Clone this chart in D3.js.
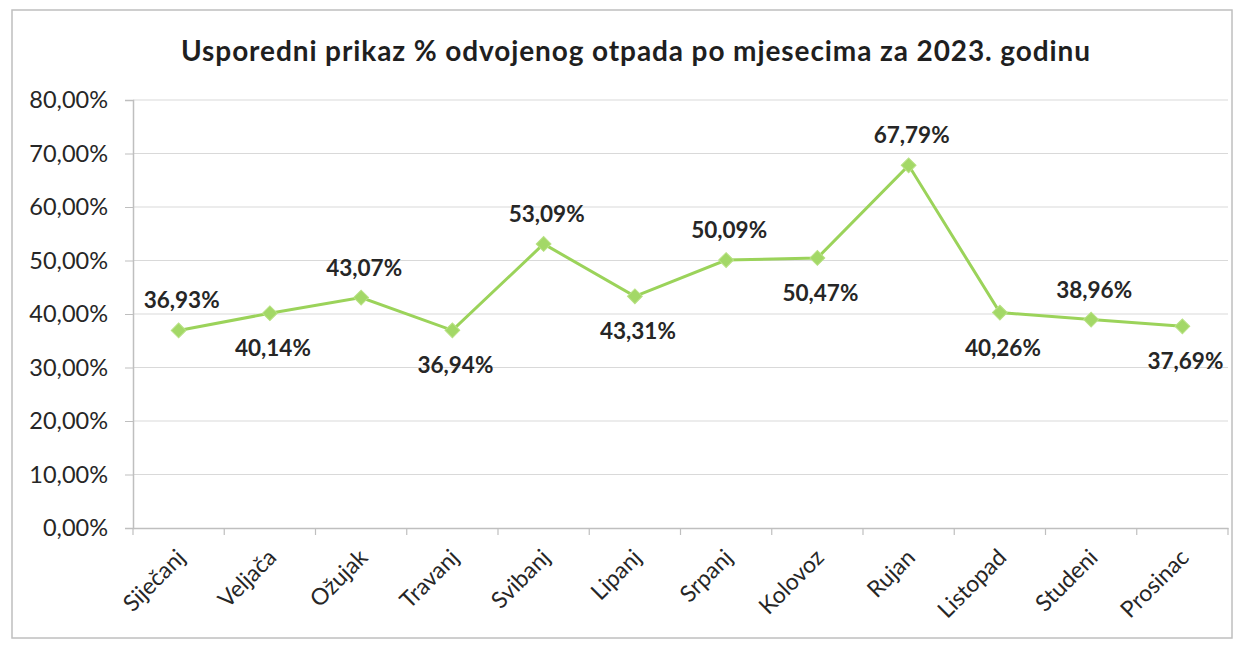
<!DOCTYPE html>
<html><head><meta charset="utf-8">
<script src="https://cdn.jsdelivr.net/npm/d3@7"></script>
<style>body{margin:0;background:#fff}svg{display:block}</style>
</head><body>
<script>
const months = ["Siječanj","Veljača","Ožujak","Travanj","Svibanj","Lipanj","Srpanj","Kolovoz","Rujan","Listopad","Studeni","Prosinac"];
const values = [36.93,40.14,43.07,36.94,53.09,43.31,50.09,50.47,67.79,40.26,38.96,37.69];
const labelPos = ["above","below","above","below","above","below","above","below","above","below","above","below"];
const yTicks = [0,10,20,30,40,50,60,70,80];
const title = "Usporedni prikaz % odvojenog otpada po mjesecima za 2023. godinu";

const W=1240,H=646;
const svg=d3.select("body").append("svg").attr("width",W).attr("height",H);
const font="Lato, 'Open Sans', sans-serif";
svg.append("rect").attr("x",12).attr("y",10).attr("width",1220).attr("height",628)
  .attr("fill","#fff").attr("stroke","#bfbfbf").attr("stroke-width",1.5);

const m={l:133,r:1228,t:100,b:528};
const x=d3.scaleBand().domain(months).range([m.l,m.r]);
const y=d3.scaleLinear().domain([0,80]).range([m.b,m.t]);
const fmt=v=>d3.format(".2f")(v).replace(".",",")+"%";

svg.append("text").attr("x",636).attr("y",61).attr("text-anchor","middle")
  .attr("font-family",font).attr("font-weight","bold").attr("font-size",28)
  .attr("letter-spacing",0.9).attr("fill","#1f1f1f").text(title);

// grid
svg.append("g").selectAll("line").data(yTicks.filter(d=>d>0)).join("line")
  .attr("x1",m.l).attr("x2",m.r).attr("y1",d=>y(d)).attr("y2",d=>y(d))
  .attr("stroke","#d9d9d9").attr("stroke-width",1.2);

// y axis
const ya=svg.append("g").attr("transform",`translate(${m.l},0)`)
  .call(d3.axisLeft(y).tickValues(yTicks).tickFormat(fmt).tickSize(8).tickPadding(17));
ya.select(".domain").attr("stroke","#bfbfbf").attr("stroke-width",1.5);
ya.selectAll(".tick line").attr("stroke","#bfbfbf");
ya.selectAll("text").attr("font-family",font).attr("font-size",23.5).attr("fill","#262626");

// x axis
const xa=svg.append("g").attr("transform",`translate(0,${m.b})`)
  .call(d3.axisBottom(x).tickSize(0).tickPadding(0));
xa.select(".domain").attr("stroke","#bfbfbf").attr("stroke-width",1.5);
xa.selectAll(".tick text").attr("font-family",font).attr("font-size",23).attr("fill","#262626")
  .attr("text-anchor","end").attr("dy",0)
  .attr("transform","translate(8,31) rotate(-45)");
// boundary ticks
svg.append("g").selectAll("line").data(months.map(d=>x(d)).concat([m.r])).join("line")
  .attr("x1",d=>d).attr("x2",d=>d).attr("y1",m.b).attr("y2",m.b+7)
  .attr("stroke","#bfbfbf").attr("stroke-width",1.2);

const cx=d=>x(d)+x.bandwidth()/2;
const line=d3.line().x((d,i)=>cx(months[i])).y(d=>y(d));
svg.append("path").datum(values).attr("d",line).attr("fill","none")
  .attr("stroke","#9bd35a").attr("stroke-width",3);
svg.append("g").selectAll("path").data(values).join("path")
  .attr("d",d3.symbol().type(d3.symbolSquare).size(110))
  .attr("transform",(d,i)=>`translate(${cx(months[i])},${y(d)}) rotate(45)`)
  .attr("fill","#a3d867").attr("stroke","#b8e184").attr("stroke-width",1);

svg.append("g").selectAll("text").data(values).join("text")
  .attr("x",(d,i)=>cx(months[i])+3)
  .attr("y",(d,i)=>labelPos[i]==="above"?y(d)-22:y(d)+43)
  .attr("text-anchor","middle").attr("font-family",font).attr("font-weight","bold")
  .attr("font-size",22.5).attr("fill","#262626").text(fmt);
</script>
</body></html>
